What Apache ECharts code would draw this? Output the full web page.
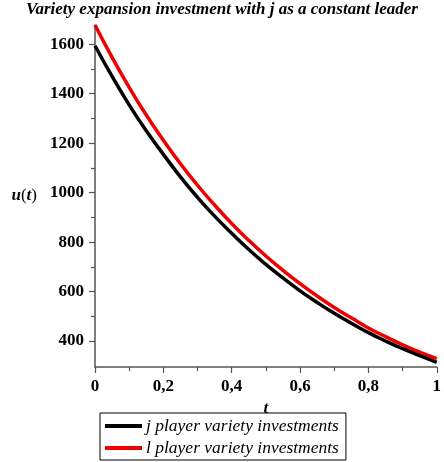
<!DOCTYPE html>
<html>
<head>
<meta charset="utf-8">
<script src="https://cdn.jsdelivr.net/npm/echarts@6/dist/echarts.min.js"></script>
<style>
  html, body { margin: 0; padding: 0; background: #ffffff; }
  #chart { width: 444px; height: 462px; }
</style>
</head>
<body>
<div id="chart"></div>
<script>
// Time grid (t) and variety-investment paths for both players
const tValues = [0, 0.05, 0.1, 0.15, 0.2, 0.25, 0.3, 0.35, 0.4, 0.45, 0.5,
                 0.55, 0.6, 0.65, 0.7, 0.75, 0.8, 0.85, 0.9, 0.95, 1];
const jInvest = [1594, 1470, 1355, 1250, 1155, 1064, 981, 905, 836, 770, 710,
                 655, 603, 556, 512, 472, 434, 400, 369, 341, 314];
const lInvest = [1678, 1547, 1426, 1314, 1212, 1117, 1030, 950, 875, 807, 744,
                 686, 632, 582, 536, 494, 453, 418, 385, 355, 329];

const xTicks = [0, 0.2, 0.4, 0.6, 0.8, 1];
const yMajorTicks = [400, 600, 800, 1000, 1200, 1400, 1600];
const yMinorTicks = [500, 700, 900, 1100, 1300, 1500];

const seriesNames = ['j player variety investments', 'l player variety investments'];
const seriesColors = ['#000000', '#ee0000'];

const titleText = 'Variety expansion investment with j as a constant leader';

const serif = '"Liberation Serif", "DejaVu Serif", serif';
const axisGrey = '#555555';

const pairs = (ys) => tValues.map((t, i) => [t, ys[i]]);

const chart = echarts.init(document.getElementById('chart'), null, { renderer: 'canvas' });

chart.setOption({
  backgroundColor: '#ffffff',
  animation: false,
  title: {
    text: titleText,
    left: 'center',
    top: 0,
    padding: [1, 0, 0, 0],
    textStyle: {
      fontFamily: serif,
      fontStyle: 'italic',
      fontWeight: 'bold',
      fontSize: 17,
      color: '#000000'
    }
  },
  legend: {
    orient: 'vertical',
    left: 100,
    top: 413,
    data: seriesNames,
    icon: 'rect',
    itemWidth: 37,
    itemHeight: 4,
    itemGap: 4,
    padding: [4, 7, 3, 5],
    borderColor: '#000000',
    borderWidth: 1,
    borderRadius: 0,
    backgroundColor: '#ffffff',
    textStyle: {
      fontFamily: serif,
      fontStyle: 'italic',
      fontSize: 17.5,
      lineHeight: 17,
      color: '#000000',
      padding: [0, 0, 0, -1]
    }
  },
  grid: { left: 95, right: 4, top: 25, bottom: 95 },
  xAxis: {
    type: 'value',
    min: 0,
    max: 1,
    interval: 0.2,
    name: 't',
    nameLocation: 'middle',
    nameGap: 30,
    nameTextStyle: {
      fontFamily: serif,
      fontStyle: 'italic',
      fontWeight: 'bold',
      fontSize: 17,
      color: '#000000'
    },
    axisLine: { show: true, onZero: false, lineStyle: { color: axisGrey, width: 1.5 } },
    axisTick: { show: true, inside: false, length: 6, customValues: xTicks,
                lineStyle: { color: axisGrey, width: 1.2 } },
    minorTick: { show: true, splitNumber: 2, length: 4, lineStyle: { color: axisGrey, width: 1.2 } },
    splitLine: { show: false },
    axisLabel: {
      margin: 11,
      customValues: xTicks,
      fontFamily: serif,
      fontWeight: 'bold',
      fontSize: 17,
      color: '#000000',
      formatter: (v) => String(v).replace('.', ',')
    }
  },
  yAxis: [
    {
      type: 'value',
      min: 295,
      max: 1678,
      name: '{i|u}{p|(}{i|t}{p|)}',
      nameLocation: 'middle',
      nameRotate: 0,
      nameGap: 58,
      nameTextStyle: {
        color: '#000000',
        rich: {
          i: { fontFamily: serif, fontStyle: 'italic', fontWeight: 'bold', fontSize: 17, color: '#000000' },
          p: { fontFamily: serif, fontSize: 17, color: '#000000' }
        }
      },
      axisLine: { show: true, onZero: false, lineStyle: { color: axisGrey, width: 1.5 } },
      axisTick: { show: true, inside: false, length: 6, customValues: yMajorTicks,
                  lineStyle: { color: axisGrey, width: 1.2 } },
      splitLine: { show: false },
      axisLabel: {
        margin: 11,
        customValues: yMajorTicks,
        fontFamily: serif,
        fontWeight: 'bold',
        fontSize: 17,
        color: '#000000',
        formatter: (v) => String(v)
      }
    },
    {
      // second, label-free axis carrying only the odd-hundred minor ticks
      type: 'value',
      position: 'left',
      min: 295,
      max: 1678,
      axisLine: { show: false },
      axisTick: { show: true, inside: false, length: 4, customValues: yMinorTicks,
                  lineStyle: { color: axisGrey, width: 1.2 } },
      axisLabel: { show: false },
      splitLine: { show: false }
    }
  ],
  series: [
    {
      name: seriesNames[0],
      type: 'line',
      data: pairs(jInvest),
      smooth: true,
      showSymbol: false,
      clip: false,
      color: seriesColors[0],
      lineStyle: { color: seriesColors[0], width: 3.5 },
      z: 3
    },
    {
      name: seriesNames[1],
      type: 'line',
      data: pairs(lInvest),
      smooth: true,
      showSymbol: false,
      clip: false,
      color: seriesColors[1],
      lineStyle: { color: seriesColors[1], width: 3.5 },
      z: 2
    }
  ]
});
</script>
</body>
</html>
